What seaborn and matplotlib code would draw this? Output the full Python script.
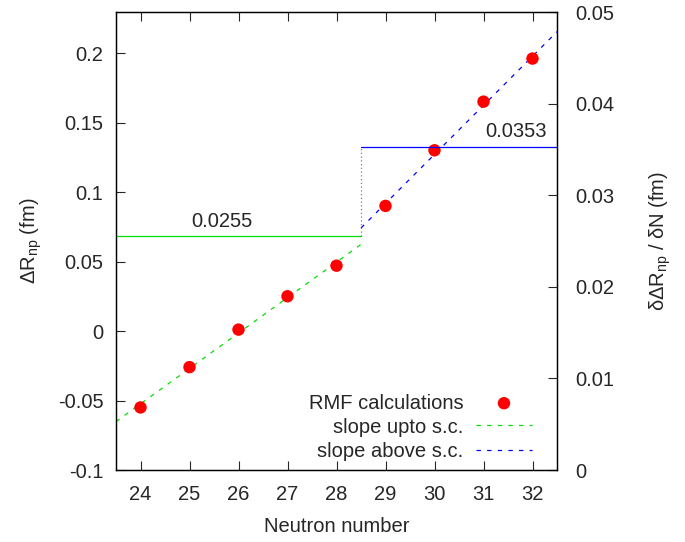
import matplotlib
matplotlib.use("Agg")
import matplotlib.pyplot as plt
import numpy as np
import pandas as pd
import seaborn as sns

# RMF calculations
neutrons = [24, 25, 26, 27, 28, 29, 30, 31, 32]
delta_rnp = [-0.055, -0.026, 0.001, 0.025, 0.047, 0.090, 0.130, 0.165, 0.196]

# linear fits (end points on the left axis)
fit_below_x = [23.5, 28.5]
fit_below_y = [-0.0652, 0.0623]
fit_above_x = [28.5, 32.5]
fit_above_y = [0.0741, 0.2153]

# slopes (right axis)
slope_below = 0.0255
slope_above = 0.0353
shell_closure = 28.5

FS = 14.5

sns.set_theme(style="ticks")
plt.rcParams["font.family"] = ["Liberation Sans", "DejaVu Sans"]
plt.rcParams["mathtext.fontset"] = "custom"
plt.rcParams["mathtext.rm"] = "Liberation Sans"
plt.rcParams["mathtext.default"] = "regular"
plt.rcParams["font.size"] = FS

fig = plt.figure(figsize=(6.85, 5.42), dpi=100)
ax = fig.add_axes([116 / 685, 72 / 542, 441 / 685, 458 / 542])
ax2 = ax.twinx()

pts = pd.DataFrame({"N": neutrons, "dR": delta_rnp})
below = pd.DataFrame({"N": fit_below_x, "dR": fit_below_y})
above = pd.DataFrame({"N": fit_above_x, "dR": fit_above_y})

sns.scatterplot(data=pts, x="N", y="dR", ax=ax, color="red", s=80, edgecolor="none",
                label="RMF calculations", zorder=5)
sns.lineplot(data=below, x="N", y="dR", ax=ax, color="#00e000", linewidth=0.9,
             label="slope upto s.c.")
sns.lineplot(data=above, x="N", y="dR", ax=ax, color="blue", linewidth=0.9,
             label="slope above s.c.")
for line in ax.get_lines():
    line.set_dashes((3.5, 5))

# slope levels on the right axis
ax2.plot([23.5, shell_closure], [slope_below, slope_below], color="#00e000", linewidth=0.9)
ax2.plot([shell_closure, 32.5], [slope_above, slope_above], color="blue", linewidth=0.9)
ax2.plot([shell_closure, shell_closure], [slope_below, slope_above], color="gray",
         linewidth=0.9, linestyle=(0, (1, 2)))
ax2.text(25.67, slope_below + 0.0006, f"{slope_below:.4f}", ha="center", va="bottom", fontsize=FS)
ax2.text(31.67, slope_above + 0.0006, f"{slope_above:.4f}", ha="center", va="bottom", fontsize=FS)

ax.set_xlim(23.5, 32.5)
ax.set_ylim(-0.1, 0.2295)
ax2.set_ylim(0, 0.05)
ax.set_xticks(neutrons)
ax.set_yticks([-0.1, -0.05, 0, 0.05, 0.1, 0.15, 0.2])
ax.set_yticklabels(["-0.1", "-0.05", "0", "0.05", "0.1", "0.15", "0.2"])
ax2.set_yticks([0, 0.01, 0.02, 0.03, 0.04, 0.05])
ax2.set_yticklabels(["0", "0.01", "0.02", "0.03", "0.04", "0.05"])

ax.tick_params(axis="x", direction="in", top=True, length=6.5, width=0.8, pad=11, labelsize=FS)
ax.tick_params(axis="y", direction="in", length=6.5, width=0.8, pad=9, labelsize=FS)
ax2.tick_params(axis="y", direction="in", length=6.5, width=0.8, pad=13, labelsize=FS)
for sp in list(ax.spines.values()) + list(ax2.spines.values()):
    sp.set_visible(True)
    sp.set_linewidth(0.9)
    sp.set_color("black")

ax.set_xlabel("Neutron number", fontsize=FS, labelpad=9)
ax.set_ylabel(r"ΔR$_{\rm np}$ (fm)", fontsize=FS, labelpad=10)
ax2.set_ylabel(r"δΔR$_{\rm np}$ / δN (fm)", fontsize=FS, labelpad=24)

handles, labels = ax.get_legend_handles_labels()
ax.legend(handles, labels, loc="lower right", bbox_to_anchor=(0.962, 0.003), frameon=False,
          markerfirst=False, handlelength=2.8, handletextpad=0.6, labelspacing=0.25,
          fontsize=FS, borderaxespad=0)

fig.savefig("out.png", dpi=100)
